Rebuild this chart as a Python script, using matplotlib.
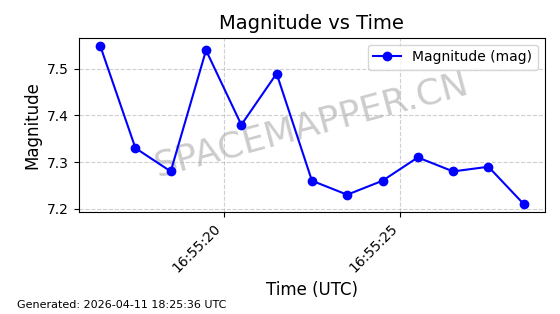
import matplotlib
matplotlib.use('Agg')
import matplotlib.pyplot as plt
import matplotlib.dates as mdates
import pandas

times = ['16:55:16.5', '16:55:17.5', '16:55:18.5', '16:55:19.5', '16:55:20.5',
         '16:55:21.5', '16:55:22.5', '16:55:23.5', '16:55:24.5', '16:55:25.5',
         '16:55:26.5', '16:55:27.5', '16:55:28.5']
magnitude = [7.55, 7.33, 7.28, 7.54, 7.38, 7.49, 7.26, 7.23, 7.26, 7.31, 7.28, 7.29, 7.21]

t = pandas.to_datetime(['2026-04-11 ' + s for s in times])

fig = plt.figure(figsize=(5.6, 3.14), dpi=100)
ax = fig.add_axes([0.141, 0.325, 0.832, 0.555])

ax.plot(t, magnitude, 'o-', color='blue', markersize=6, label='Magnitude (mag)', zorder=3)
ax.set_title('Magnitude vs Time', fontsize=14)
ax.set_xlabel('Time (UTC)', fontsize=12)
ax.set_ylabel('Magnitude', fontsize=12)
ax.grid(True, linestyle='--', alpha=0.6)
ax.xaxis.set_major_formatter(mdates.DateFormatter('%H:%M:%S'))
ax.xaxis.set_major_locator(mdates.SecondLocator(bysecond=range(0, 60, 5)))
plt.setp(ax.get_xticklabels(), rotation=45, ha='right')
ax.legend(loc='upper right')

ax.text(0.5, 0.5, 'SPACEMAPPER.CN', transform=ax.transAxes, fontsize=26,
        color='gray', alpha=0.4, rotation=15, ha='center', va='center', zorder=1)

fig.text(0.03, 0.02, 'Generated: 2026-04-11 18:25:36 UTC', fontsize=8)

plt.savefig('out.png', dpi=100)
